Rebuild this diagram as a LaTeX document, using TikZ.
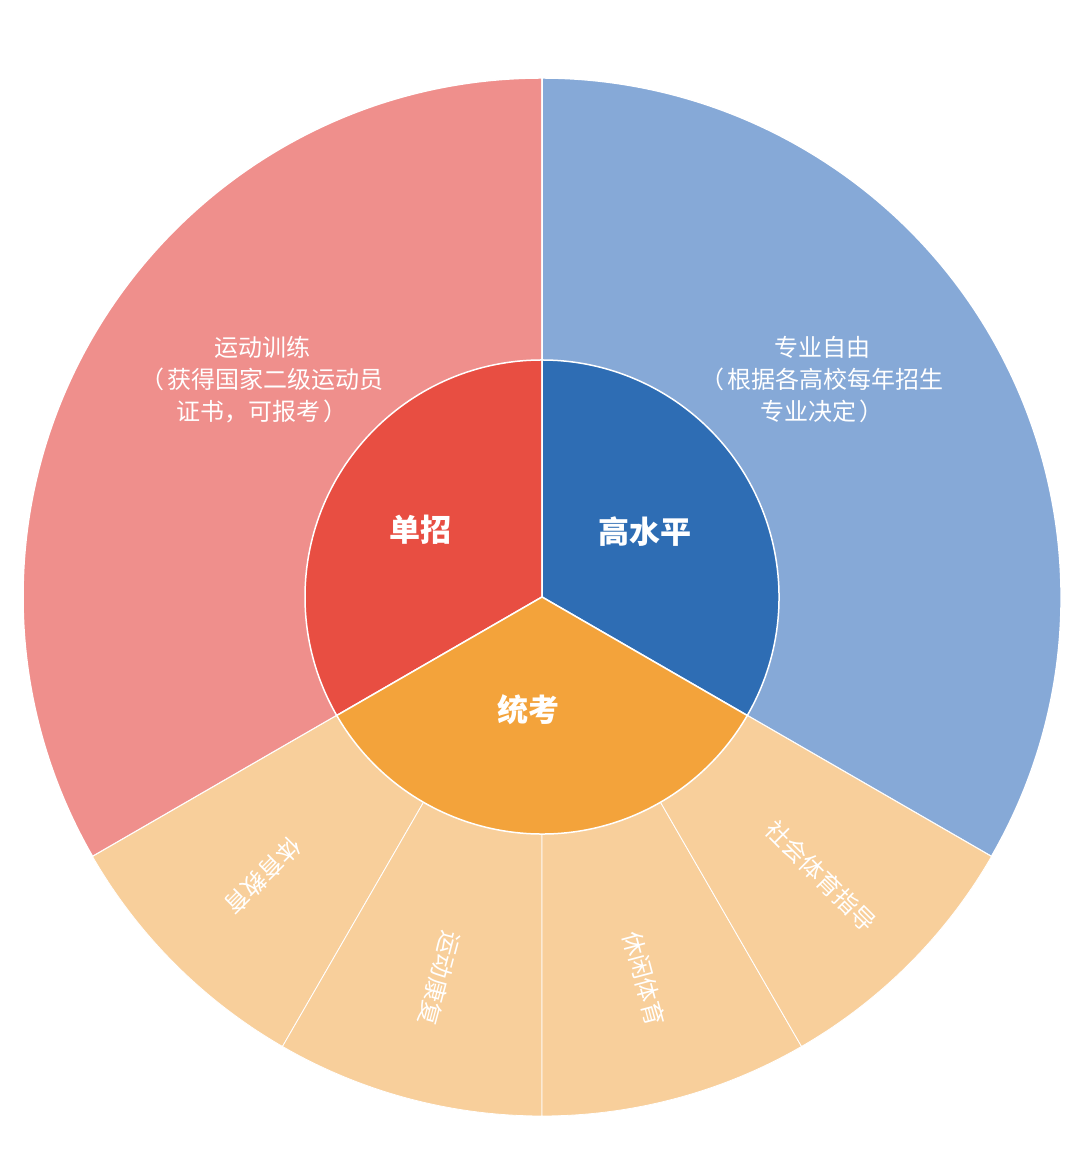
\documentclass[tikz,border=0pt]{standalone}
\usepackage{fontspec}
\newfontfamily\cjk{Noto Sans CJK SC}
\usetikzlibrary{calc}
\definecolor{outred}{HTML}{EF8F8C}
\definecolor{outblue}{HTML}{86A9D7}
\definecolor{outorange}{HTML}{F8CF9B}
\definecolor{inred}{HTML}{E84E42}
\definecolor{inblue}{HTML}{2E6DB4}
\definecolor{inorange}{HTML}{F3A33B}
\tikzset{
  wedge/.style={draw=white, line width=1.5pt},
  outlbl/.style={text=white, font=\cjk\fontsize{24}{32}\selectfont, align=center},
  ringlbl/.style={text=white, font=\cjk\fontsize{24}{30}\selectfont, inner sep=1pt},
  inlbl/.style={text=white, font=\cjk\bfseries\fontsize{31}{36}\selectfont}
}
\begin{document}
\begin{tikzpicture}[x=1pt, y=1pt]
  \useasboundingbox (0,0) rectangle (1080,1159);
  \coordinate (c) at (542,562);

  % Outer ring
  \draw[wedge, fill=outred] (c) -- ++(90:519) arc[start angle=90, end angle=210, radius=519] -- cycle;
  \draw[wedge, fill=outblue] (c) -- ++(-30:519) arc[start angle=-30, end angle=90, radius=519] -- cycle;
  \foreach \a in {210,240,270,300}
    \draw[wedge, line width=0.8pt, fill=outorange] (c) -- ++(\a:519) arc[start angle=\a, end angle=\a+30, radius=519] -- cycle;

  % Inner disc
  \draw[wedge, fill=inred] (c) -- ++(90:237) arc[start angle=90, end angle=210, radius=237] -- cycle;
  \draw[wedge, fill=inblue] (c) -- ++(-30:237) arc[start angle=-30, end angle=90, radius=237] -- cycle;
  \draw[wedge, fill=inorange] (c) -- ++(210:237) arc[start angle=210, end angle=330, radius=237] -- cycle;

  % Inner labels
  \node[inlbl] (dz) at (420,629) {单招};
  \node[inlbl] (gsp) at (645,627) {高水平};
  \node[inlbl] (tk) at (528,449) {统考};

  % Outer labels
  \node[outlbl] (xl) at (262,779) {运动训练\\（\,获得国家二级运动员\\证书，可报考\,）};
  \node[outlbl] (zy) at (822,779) {专业自由\\（\,根据各高校每年招生\\专业决定\,）};

  % Orange ring labels
  \foreach \a/\t in {225/体育教育, 255/运动康复, 285/休闲体育, 315/社会体育指导}
    \node[ringlbl, rotate=\a] (s\a) at ($(c)+(\a:395)$) {\t};
\end{tikzpicture}
\end{document}
